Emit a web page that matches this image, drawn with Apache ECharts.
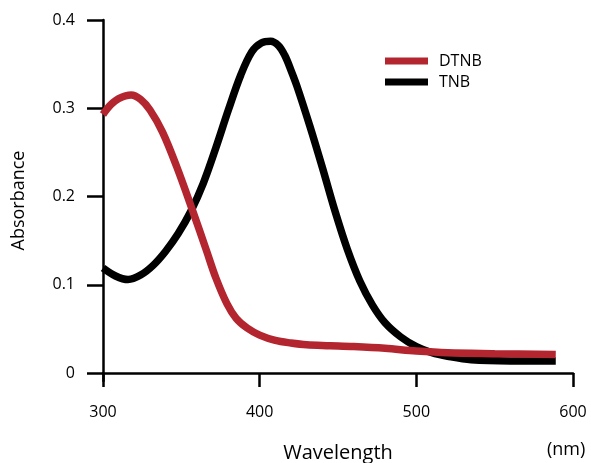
<!DOCTYPE html>
<html>
<head>
<meta charset="utf-8">
<script src="https://cdn.jsdelivr.net/npm/echarts@6/dist/echarts.min.js"></script>
<style>html,body{margin:0;padding:0;background:#fff;}#c{width:591px;height:463px;}</style>
</head>
<body>
<div id="c"></div>
<script>
const xTicks = [300, 400, 500, 600];
const yTicks = [0, 0.1, 0.2, 0.3, 0.4];
const seriesNames = ['DTNB', 'TNB'];
const dtnb = [[300,0.293],[305,0.304],[310,0.311],[318,0.315],[324,0.310],[330,0.298],[338,0.273],[347,0.234],[357,0.185],[366,0.139],[372,0.108],[379,0.079],[385,0.062],[392,0.051],[400,0.043],[410,0.037],[420,0.034],[430,0.032],[445,0.031],[460,0.030],[480,0.028],[500,0.025],[520,0.023],[550,0.022],[589,0.021]];
const tnb = [[300,0.119],[308,0.110],[316,0.106],[324,0.111],[332,0.122],[340,0.138],[348,0.158],[356,0.183],[364,0.215],[372,0.255],[380,0.298],[388,0.338],[395,0.364],[401,0.374],[407,0.376],[412,0.371],[416,0.360],[420,0.343],[424,0.324],[432,0.280],[440,0.233],[448,0.184],[456,0.140],[464,0.104],[472,0.077],[480,0.057],[490,0.041],[500,0.030],[510,0.023],[520,0.019],[535,0.015],[560,0.0137],[589,0.0137]];

const FONT = 'Open Sans';
const chart = echarts.init(document.getElementById('c'), null, {renderer: 'canvas'});
chart.setOption({
  animation: false,
  backgroundColor: '#fff',
  grid: {left: 103, right: 18, top: 20, bottom: 82, outerBoundsMode: 'none', containLabel: false},
  legend: {
    data: seriesNames,
    orient: 'vertical',
    left: 385, top: 53, padding: 0,
    icon: 'rect',
    itemWidth: 43, itemHeight: 7, itemGap: 5,
    textStyle: {fontFamily: FONT, fontSize: 16, color: '#000', lineHeight: 16, padding: [0,0,0,6]}
  },
  xAxis: {
    type: 'value', min: 300, max: 600, interval: 100,
    axisLine: {lineStyle: {color: '#000', width: 2.5}},
    axisTick: {length: 14, lineStyle: {color: '#000', width: 2.5}, customValues: xTicks},
    axisLabel: {color: '#000', fontFamily: FONT, fontSize: 16, margin: 23, customValues: xTicks},
    splitLine: {show: false},
    name: 'Wavelength', nameLocation: 'middle', nameGap: 62,
    nameTextStyle: {color: '#000', fontFamily: FONT, fontSize: 20}
  },
  yAxis: {
    type: 'value', min: -0.009, max: 0.4,
    axisLine: {show: true, lineStyle: {color: '#000', width: 2.5}},
    axisTick: {show: true, length: 16, lineStyle: {color: '#000', width: 2.5}, customValues: yTicks},
    axisLabel: {color: '#000', fontFamily: FONT, fontSize: 16, margin: 28, customValues: yTicks,
      formatter: v => String(Math.round(v*10)/10)},
    splitLine: {show: false},
    name: 'Absorbance', nameLocation: 'middle', nameGap: 75,
    nameTextStyle: {color: '#000', fontFamily: FONT, fontSize: 18}
  },
  graphic: [{
    type: 'text', left: 547, top: 441,
    style: {text: '(nm)', fill: '#000', font: '18px "Open Sans"'}
  }],
  series: [
    {name: 'TNB', type: 'line', data: tnb, showSymbol: false, smooth: 0.35,
     lineStyle: {color: '#000', width: 7.5}, itemStyle: {color: '#000'}, z: 2},
    {name: 'DTNB', type: 'line', data: dtnb, showSymbol: false, smooth: 0.35,
     lineStyle: {color: '#B3262F', width: 7.5}, itemStyle: {color: '#B3262F'}, z: 3}
  ]
});
</script>
</body>
</html>
